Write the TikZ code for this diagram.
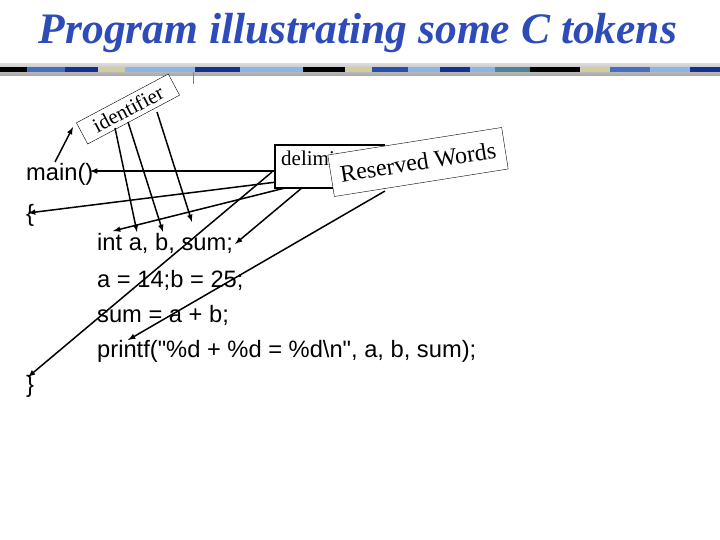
\documentclass[tikz,border=0pt]{standalone}
\usepackage{fontspec}
\setmainfont{Liberation Serif}
\newfontfamily\arialf{Liberation Sans}
\definecolor{cbA}{RGB}{70,110,190}
\definecolor{cbB}{RGB}{20,50,140}
\definecolor{cbT}{RGB}{210,205,160}
\definecolor{cbL}{RGB}{140,180,230}
\definecolor{cbM}{RGB}{40,80,170}
\definecolor{cbG}{RGB}{80,130,150}
\definecolor{titleblue}{RGB}{45,75,185}
\begin{document}
\begin{tikzpicture}[x=1pt,y=-1pt,
  code/.style={font=\arialf\fontsize{23.7}{23.7}\selectfont,anchor=base west,inner sep=0},
  lbl/.style={draw,fill=white,inner sep=2pt},
  arr/.style={-latex,line width=1.5pt}]
\useasboundingbox (0,0) rectangle (720,540);
\fill[white] (0,0) rectangle (720,540);
% title
\node[text=titleblue,font=\fontsize{43.5}{43.5}\selectfont\bfseries\itshape] (title) at (358,33) {Program illustrating some C tokens};
% decorative bar
\shade[top color=gray!30,bottom color=gray!70] (0,64) rectangle (720,76);
\foreach \a/\b/\c in {0/27/black,27/65/cbA,65/98/cbB,98/125/cbT,125/195/cbL,195/240/cbB,240/303/cbL,303/345/black,345/372/cbT,372/408/cbM,408/440/cbL,440/470/cbB,470/495/cbL,495/530/cbG,530/580/black,580/610/cbT,610/650/cbA,650/690/cbL,690/720/cbB}
  \fill[\c] (\a,67) rectangle (\b,72);
\draw[gray] (193,72) -- (193,84);
% code
\node[code] (main) at (26,181) {main()};
\node[code] (lb) at (26,222) {\{};
\node[code] (l1) at (97,251) {int a, b, sum;};
\node[code] (l2) at (97,287) {a = 14;b = 25;};
\node[code] (l3) at (97,322) {sum = a + b;};
\node[code] (l4) at (97,357) {printf("\%d + \%d = \%d\textbackslash n", a, b, sum);};
\node[code] (rb) at (26,392) {\}};
% identifier box
\node[lbl,rotate=28,minimum width=104pt,minimum height=24pt,font=\fontsize{21}{21}\selectfont] (id) at (128,109) {identifier};
% connectors
\coordinate (m1) at (55,162); \coordinate (i1) at (73,127);
\draw[arr] (m1) -- (i1);
\coordinate (is1) at (115,128); \coordinate (a1) at (137,232);
\coordinate (is2) at (128,122); \coordinate (a2) at (163,232);
\coordinate (is3) at (157,112); \coordinate (a3) at (192,222);
\draw[arr] (is1) -- (a1);
\draw[arr] (is2) -- (a2);
\draw[arr] (is3) -- (a3);
\coordinate (d1) at (274,171); \coordinate (t1) at (90,171);
\coordinate (d2) at (333,175); \coordinate (t2) at (28,213);
\coordinate (d3) at (272,172); \coordinate (t3) at (28,377);
\coordinate (d4) at (303,187); \coordinate (t4) at (235,244);
\coordinate (d5) at (333,176); \coordinate (t5) at (113,231);
\coordinate (r1) at (385,191); \coordinate (t6) at (128,340);
\draw[arr] (d1) -- (t1);
\draw[arr] (d2) -- (t2);
\draw[arr] (d3) -- (t3);
\draw[arr] (d4) -- (t4);
\draw[arr] (d5) -- (t5);
\draw[arr] (r1) -- (t6);
% boxes on top of lines
\node[draw,line width=1.6pt,fill=white,minimum width=109pt,minimum height=43pt,anchor=north west,inner sep=0] (del) at (274,144) {};
\node[anchor=west,font=\fontsize{21}{21}\selectfont,inner sep=0] (deltxt) at (281,158) {delimiter};
\node[lbl,rotate=9,minimum width=176pt,minimum height=42pt,font=\fontsize{24}{24}\selectfont] (res) at (418,162) {Reserved Words};
\end{tikzpicture}
\end{document}
